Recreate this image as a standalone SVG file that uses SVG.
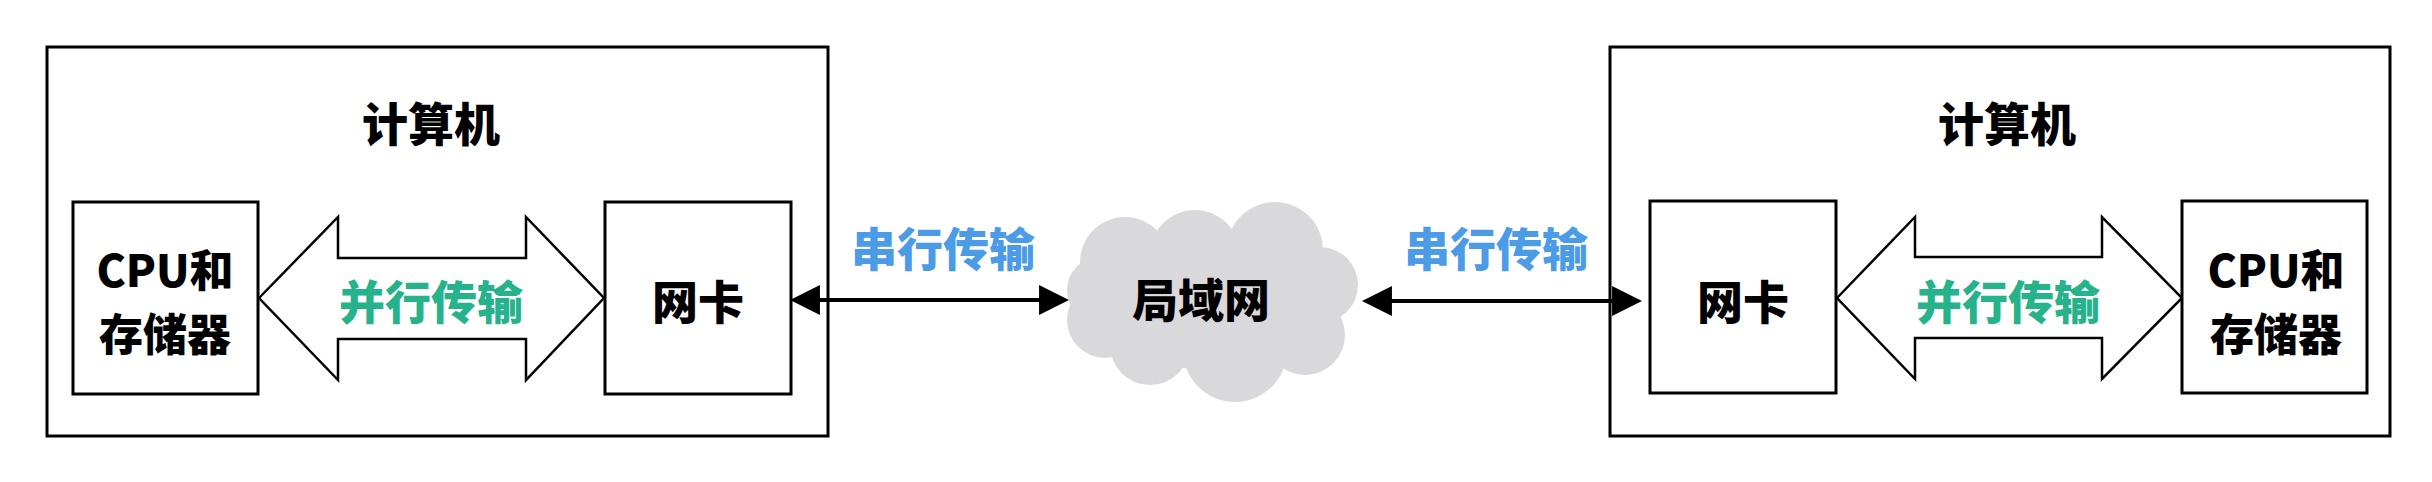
<svg xmlns="http://www.w3.org/2000/svg" width="2432" height="482" viewBox="0 0 2432 482">
<style>
  .frame{fill:#fff;stroke:#000;stroke-width:3}
  .box{fill:#fff;stroke:#000;stroke-width:3}
  .fat{fill:#fff;stroke:#000;stroke-width:2.5;stroke-linejoin:miter}
  .t{font-family:"Noto Sans CJK SC","Noto Sans",sans-serif;font-weight:900;font-size:46px;text-anchor:middle;dominant-baseline:central}
  .sm{font-size:44px}
  .blk{fill:#000}
  .grn{fill:#26b38c}
  .blu{fill:#4b9be6}
  .conn{stroke:#000;stroke-width:4;fill:none}
  .cloud{fill:#d9d9db}
</style>
<defs>
  <marker id="ah" markerUnits="userSpaceOnUse" markerWidth="30" markerHeight="30" viewBox="0 0 26 26" refX="6" refY="13" orient="auto-start-reverse">
    <path d="M0,0 L26,13 L0,26 z" fill="#000"/>
  </marker>
</defs>
<rect width="2432" height="482" fill="#fff"/>

<g id="computer-left">
  <rect class="frame" x="47" y="47" width="781" height="389"/>
  <text class="t blk" x="431" y="121">计算机</text>
  <g id="cpu-left">
    <rect class="box" x="73" y="202" width="185" height="192"/>
    <text class="t sm blk" x="165" y="268">CPU和</text>
    <text class="t sm blk" x="165" y="332">存储器</text>
  </g>
  <g id="parallel-left">
    <polygon class="fat" points="259,298 338,217 338,258 526,258 526,217 604,298 526,380 526,339 338,339 338,380"/>
    <text class="t grn" x="431" y="299">并行传输</text>
  </g>
  <g id="nic-left">
    <rect class="box" x="605" y="202" width="186" height="192"/>
    <text class="t blk" x="698" y="299">网卡</text>
  </g>
</g>

<g id="lan">
  <g class="cloud">
    <circle cx="1125" cy="262" r="45"/>
    <circle cx="1195" cy="255" r="45"/>
    <circle cx="1275" cy="250" r="48"/>
    <circle cx="1320" cy="285" r="38"/>
    <circle cx="1305" cy="335" r="40"/>
    <circle cx="1235" cy="350" r="52"/>
    <circle cx="1150" cy="345" r="40"/>
    <circle cx="1105" cy="320" r="38"/>
    <circle cx="1100" cy="290" r="33"/>
    <ellipse cx="1210" cy="300" rx="110" ry="70"/>
  </g>
  <text class="t blk" x="1201" y="297">局域网</text>
</g>

<g id="computer-right">
  <rect class="frame" x="1610" y="47" width="780" height="389"/>
  <text class="t blk" x="2007" y="121">计算机</text>
  <g id="nic-right">
    <rect class="box" x="1650" y="201" width="186" height="192"/>
    <text class="t blk" x="1743" y="299">网卡</text>
  </g>
  <g id="parallel-right">
    <polygon class="fat" points="1837,298 1915,217 1915,257 2102,257 2102,217 2182,298 2102,379 2102,338 1915,338 1915,379"/>
    <text class="t grn" x="2008" y="299">并行传输</text>
  </g>
  <g id="cpu-right">
    <rect class="box" x="2182" y="201" width="185" height="192"/>
    <text class="t sm blk" x="2276" y="268">CPU和</text>
    <text class="t sm blk" x="2276" y="332">存储器</text>
  </g>
</g>

<g id="connectors">
  <line class="conn" x1="813" y1="300" x2="1046" y2="300" marker-start="url(#ah)" marker-end="url(#ah)"/>
  <text class="t blu" x="943" y="246">串行传输</text>
  <line class="conn" x1="1385" y1="301" x2="1619" y2="301" marker-start="url(#ah)" marker-end="url(#ah)"/>
  <text class="t blu" x="1496" y="246">串行传输</text>
</g>
</svg>
